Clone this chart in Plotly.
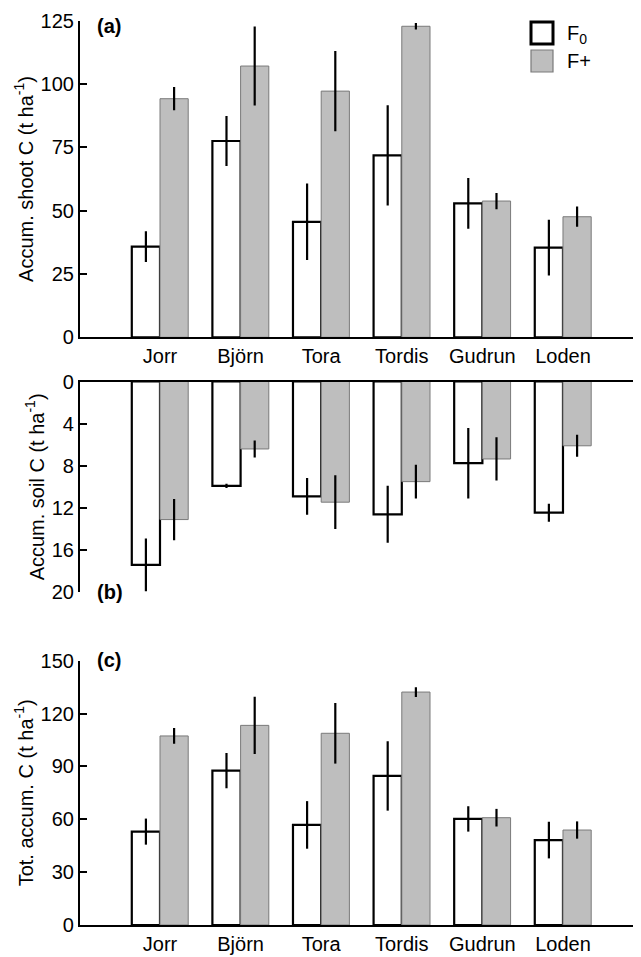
import plotly.graph_objects as go

# ---------------- data ----------------
cultivars = ["Jorr", "Björn", "Tora", "Tordis", "Gudrun", "Loden"]

shoot_f0 = [35.8, 77.5, 45.6, 71.8, 52.9, 35.4]
shoot_f0_err = [6.1, 9.9, 15.1, 19.8, 10.0, 11.0]
shoot_fp = [94.2, 107.1, 97.2, 122.8, 53.8, 47.6]
shoot_fp_err = [4.6, 15.6, 15.8, 1.3, 3.2, 4.0]

soil_f0 = [17.4, 9.9, 10.9, 12.6, 7.75, 12.45]
soil_f0_err = [2.5, 0.2, 1.75, 2.7, 3.35, 0.85]
soil_fp = [13.1, 6.4, 11.45, 9.5, 7.35, 6.1]
soil_fp_err = [1.95, 0.8, 2.55, 1.6, 2.05, 1.05]

tot_f0 = [53.0, 87.6, 56.8, 84.6, 60.2, 48.2]
tot_f0_err = [7.4, 10.0, 13.5, 19.7, 7.2, 10.4]
tot_fp = [107.3, 113.3, 108.8, 132.2, 60.9, 53.9]
tot_fp_err = [4.5, 16.3, 17.2, 2.8, 5.0, 4.9]

shoot_ticks = [0, 25, 50, 75, 100, 125]
soil_ticks = [0, 4, 8, 12, 16, 20]
tot_ticks = [0, 30, 60, 90, 120, 150]

# ---------------- styling ----------------
OFF = 8  # default page body margin
W, H = 641 - OFF, 957 - OFF
FONT = "Liberation Sans, Arial, sans-serif"
GRAY = "#bebebe"
GRAY_LINE = "#7a7a7a"
xpos = list(range(len(cultivars)))


def py(p):
    return 1 - (p - OFF) / H


def px(p):
    return (p - OFF) / W


fig = go.Figure()

panels = [
    ("", shoot_f0, shoot_f0_err, shoot_fp, shoot_fp_err),
    ("2", soil_f0, soil_f0_err, soil_fp, soil_fp_err),
    ("3", tot_f0, tot_f0_err, tot_fp, tot_fp_err),
]

for suffix, f0, f0e, fp, fpe in panels:
    fig.add_trace(go.Bar(
        x=xpos, y=f0, name="F<sub>0</sub>", legendgroup="f0",
        showlegend=False, xaxis="x" + suffix, yaxis="y" + suffix,
        marker=dict(color="white", line=dict(color="black", width=2.2)),
        error_y=dict(type="data", array=f0e, visible=True,
                     color="black", thickness=2.2, width=0),
    ))
    fig.add_trace(go.Bar(
        x=xpos, y=fp, name="F+", legendgroup="fp",
        showlegend=False, xaxis="x" + suffix, yaxis="y" + suffix,
        marker=dict(color=GRAY, line=dict(color=GRAY_LINE, width=1)),
        error_y=dict(type="data", array=fpe, visible=True,
                     color="black", thickness=2.2, width=0),
    ))

xr = [-0.9926, 5.968]
xdom = [px(80), 1.0]
tickfont = dict(family=FONT, size=20, color="black")

common_x = dict(range=xr, domain=xdom, showgrid=False, zeroline=False,
                showline=True, linecolor="black", linewidth=2.2,
                tickvals=xpos, ticktext=cultivars, ticks="",
                tickfont=tickfont, fixedrange=True, automargin=False)
common_y = dict(showgrid=False, zeroline=False, showline=True,
                linecolor="black", linewidth=2.2, ticks="inside",
                ticklen=7, tickwidth=2, tickcolor="black",
                tickfont=tickfont, fixedrange=True, automargin=False,
                title_font=dict(family=FONT, size=20, color="black"),
                title_standoff=2)

fig.update_layout(
    width=W, height=H,
    margin=dict(l=0, r=0, t=0, b=0, autoexpand=False),
    paper_bgcolor="white", plot_bgcolor="white",
    barmode="group", bargap=0.3, bargroupgap=0,
    showlegend=False,
    font=dict(family=FONT, size=20, color="black"),
    xaxis=dict(common_x, anchor="y"),
    yaxis=dict(common_y, anchor="x", domain=[py(337.3), py(20.7)],
               range=[0, 125], tickvals=shoot_ticks,
               title_text="Accum. shoot C (t ha<sup>-1</sup>)"),
    xaxis2=dict(common_x, anchor="y2", side="top", showticklabels=False),
    yaxis2=dict(common_y, anchor="x2", domain=[py(592.3), py(381.5)],
                range=[20, 0], tickvals=soil_ticks,
                title_text="Accum. soil C (t ha<sup>-1</sup>)"),
    xaxis3=dict(common_x, anchor="y3"),
    yaxis3=dict(common_y, anchor="x3", domain=[py(925), py(660.7)],
                range=[0, 150], tickvals=tot_ticks,
                title_text="Tot. accum. C (t ha<sup>-1</sup>)"),
)

# panel letters
for txt, yc in [("(a)", 26), ("(b)", 592), ("(c)", 660)]:
    fig.add_annotation(text="<b>%s</b>" % txt, xref="paper", yref="paper",
                       x=px(95), y=py(yc), xanchor="left", yanchor="middle",
                       showarrow=False, font=dict(family=FONT, size=20, color="black"))

# custom legend (larger boxes as in the reference)
fig.add_shape(type="rect", xref="paper", yref="paper",
              x0=px(531), x1=px(553), y0=py(44), y1=py(22),
              fillcolor="white", line=dict(color="black", width=3))
fig.add_shape(type="rect", xref="paper", yref="paper",
              x0=px(531), x1=px(553), y0=py(72), y1=py(50),
              fillcolor=GRAY, line=dict(color=GRAY_LINE, width=1.2))
fig.add_annotation(text="F<sub>0</sub>", xref="paper", yref="paper",
                   x=px(565), y=py(35), xanchor="left", yanchor="middle",
                   showarrow=False, font=dict(family=FONT, size=20, color="black"))
fig.add_annotation(text="F+", xref="paper", yref="paper",
                   x=px(565), y=py(61), xanchor="left", yanchor="middle",
                   showarrow=False, font=dict(family=FONT, size=20, color="black"))

fig.write_html("out.html")
